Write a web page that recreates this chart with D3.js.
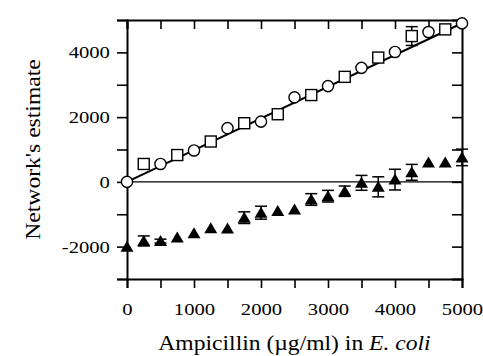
<!DOCTYPE html>
<html>
<head>
<meta charset="utf-8">
<script src="https://cdn.jsdelivr.net/npm/d3@7"></script>
<style>
  body { margin: 0; background: #ffffff; }
  text { font-family: "Liberation Serif", "Times New Roman", serif; fill: #000; }
</style>
</head>
<body>
<div id="chart-container"></div>
<script>
// Open circles (0, 500, ... 5000)
const circleX = [0, 500, 1000, 1500, 2000, 2500, 3000, 3500, 4000, 4500, 5000];
const circleY = [0, 553, 970, 1659, 1862, 2611, 2958, 3521, 4013, 4627, 4895];

// Open squares (250, 750, ... 4750)
const squareX = [250, 750, 1250, 1750, 2250, 2750, 3250, 3750, 4250, 4750];
const squareY = [553, 829, 1247, 1812, 2089, 2682, 3244, 3840, 4504, 4710];
const squareErr = [0, 0, 0, 0, 0, 0, 0, 0, 290, 0];

// Filled triangles (0, 250, ... 5000)
const triX = [0, 250, 500, 750, 1000, 1250, 1500, 1750, 2000, 2250, 2500,
  2750, 3000, 3250, 3500, 3750, 4000, 4250, 4500, 4750, 5000];
const triY = [-2000, -1825, -1830, -1720, -1590, -1435, -1440, -1106, -952, -902, -850,
  -544, -442, -288, -30, -153, 70, 295, 600, 600, 756];
const triErr = [0, 155, 60, 0, 0, 0, 0, 180, 200, 0, 0,
  180, 180, 160, 230, 310, 320, 245, 0, 0, 255];

// Fitted line endpoints
const fitX = [0, 5000];
const fitY = [0, 4900];

const xTicks = [0, 500, 1000, 1500, 2000, 2500, 3000, 3500, 4000, 4500, 5000];
const xLabels = [0, 1000, 2000, 3000, 4000, 5000];
const yTicks = [-3000, -2000, -1000, 0, 1000, 2000, 3000, 4000, 5000];
const yLabels = [-2000, 0, 2000, 4000];

const width = 483;
const height = 356;
const margin = { top: 20, right: 21, bottom: 77, left: 127 };
const serif = '"Liberation Serif", "Times New Roman", serif';

const x = d3.scaleLinear().domain([0, 5000]).range([margin.left, width - margin.right]);
const y = d3.scaleLinear().domain([-3000, 5000]).range([height - margin.bottom, margin.top]);

const svg = d3
  .select('#chart-container')
  .append('svg')
  .attr('width', width)
  .attr('height', height);

svg.append('rect').attr('width', width).attr('height', height).attr('fill', '#fff');

// the original type is wider than Times, so stretch along the reading direction
const stretch = 'scale(1.18,1)';

// Axes
const axisB = svg.append('g')
  .attr('transform', `translate(0,${y(-3000)})`)
  .call(d3.axisBottom(x).tickValues(xTicks).tickSize(9).tickPadding(5)
    .tickFormat((d) => (xLabels.includes(d) ? d : '')));

const axisL = svg.append('g')
  .attr('transform', `translate(${x(0)},0)`)
  .call(d3.axisLeft(y).tickValues(yTicks).tickSize(10).tickPadding(4.5)
    .tickFormat((d) => (yLabels.includes(d) ? d : '')));

const axisT = svg.append('g')
  .attr('transform', `translate(0,${y(5000)})`)
  .call(d3.axisTop(x).tickValues(xTicks).tickSize(-9).tickFormat(''));

const axisR = svg.append('g')
  .attr('transform', `translate(${x(5000)},0)`)
  .call(d3.axisRight(y).tickValues(yTicks.slice(1, -1)).tickSize(-10).tickFormat(''));

[axisB, axisL, axisT, axisR].forEach((g) => {
  g.attr('font-family', serif).attr('font-size', 17.5);
  g.select('.domain').attr('stroke', '#000').attr('stroke-width', 2);
  g.selectAll('.tick line').attr('stroke', '#000').attr('stroke-width', 1.6);
  g.selectAll('text')
    .style('font-family', serif)
    .style('font-size', '17.5px')
    .attr('transform', stretch);
});
axisB.selectAll('text').attr('dy', '1.25em');

// Zero line
svg.append('line')
  .attr('x1', x(0)).attr('x2', x(5000))
  .attr('y1', y(0)).attr('y2', y(0))
  .attr('stroke', '#000').attr('stroke-width', 1.1);

// Fit line
svg.append('path')
  .datum(fitX.map((d, i) => [d, fitY[i]]))
  .attr('fill', 'none')
  .attr('stroke', '#000')
  .attr('stroke-width', 2)
  .attr('d', d3.line().x((d) => x(d[0])).y((d) => y(d[1])));

// Error bars
function errorBars(xs, ys, errs) {
  const g = svg.append('g').attr('stroke', '#000').attr('stroke-width', 1.5);
  xs.forEach((d, i) => {
    if (!errs[i]) return;
    const cx = x(d);
    const y1 = y(ys[i] + errs[i]);
    const y2 = y(ys[i] - errs[i]);
    g.append('line').attr('x1', cx).attr('x2', cx).attr('y1', y1).attr('y2', y2);
    g.append('line').attr('x1', cx - 6).attr('x2', cx + 6).attr('y1', y1).attr('y2', y1);
    g.append('line').attr('x1', cx - 6).attr('x2', cx + 6).attr('y1', y2).attr('y2', y2);
  });
}
errorBars(triX, triY, triErr);
errorBars(squareX, squareY, squareErr);

// Triangles
svg.append('g')
  .selectAll('path')
  .data(triX)
  .enter()
  .append('path')
  .attr('d', 'M0,-6L6.5,5L-6.5,5Z')
  .attr('transform', (d, i) => `translate(${x(d)},${y(triY[i])})`)
  .attr('fill', '#000');

// Squares
svg.append('g')
  .selectAll('rect')
  .data(squareX)
  .enter()
  .append('rect')
  .attr('x', (d) => x(d) - 5.5)
  .attr('y', (d, i) => y(squareY[i]) - 5.5)
  .attr('width', 11)
  .attr('height', 11)
  .attr('fill', '#fff')
  .attr('stroke', '#000')
  .attr('stroke-width', 1.4);

// Circles
svg.append('g')
  .selectAll('circle')
  .data(circleX)
  .enter()
  .append('circle')
  .attr('cx', (d) => x(d))
  .attr('cy', (d, i) => y(circleY[i]))
  .attr('r', 5.6)
  .attr('fill', '#fff')
  .attr('stroke', '#000')
  .attr('stroke-width', 1.4);

// Axis titles
const xTitle = svg.append('text')
  .attr('text-anchor', 'middle')
  .attr('transform', `translate(${(x(0) + x(5000)) / 2},350) ${stretch}`)
  .style('font-size', '20px');
xTitle.append('tspan').text('Ampicillin (\u00b5g/ml) in ');
xTitle.append('tspan').style('font-style', 'italic').text('E. coli');

svg.append('text')
  .attr('text-anchor', 'middle')
  .attr('transform', `translate(40,${(y(5000) + y(-3000)) / 2}) rotate(-90) ${stretch}`)
  .style('font-size', '20px')
  .text("Network's estimate");
</script>
</body>
</html>
